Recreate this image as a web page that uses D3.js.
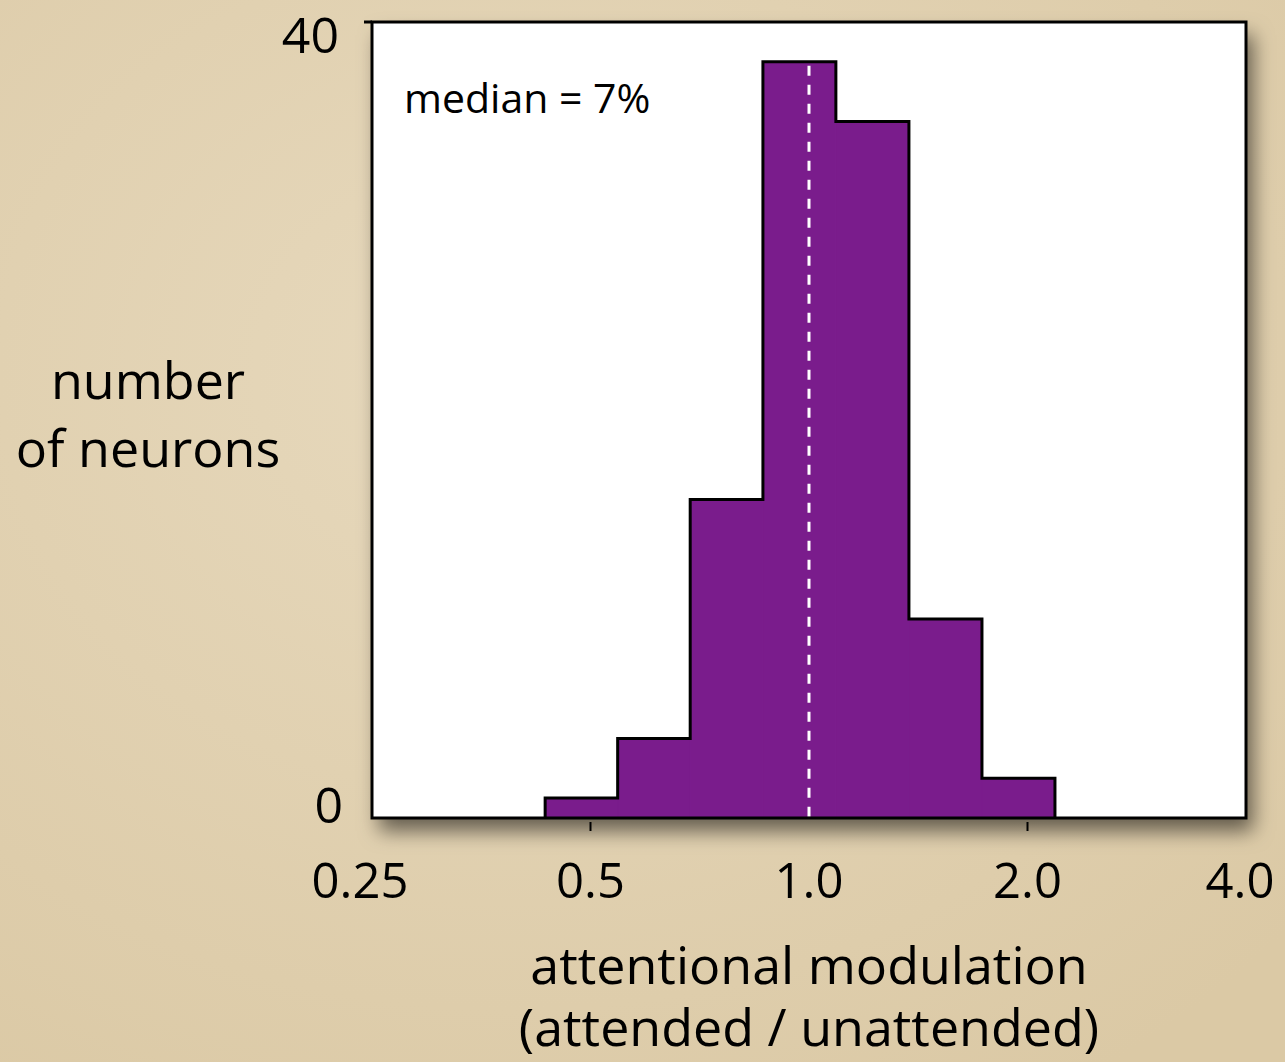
<!DOCTYPE html>
<html>
<head>
<meta charset="utf-8">
<script src="https://cdn.jsdelivr.net/npm/d3@7/dist/d3.min.js"></script>
<style>
  html, body { margin: 0; padding: 0; background: #dfcfae; }
  svg { display: block; }
  text { font-family: "Open Sans", "Noto Sans", sans-serif; fill: #000; }
</style>
</head>
<body>
<svg id="chart" width="1285" height="1062"></svg>
<script>
// ---- data ----
const binEdges = [0.433, 0.545, 0.686, 0.864, 1.089, 1.373, 1.731, 2.182];
const binCounts = [1, 4, 16, 38, 35, 10, 2];
const xTickLabels = [0.25, 0.5, 1.0, 2.0, 4.0];
const xTickMarks = [0.5, 2.0];
const yTickLabels = [0, 40];
const medianValue = 1.0;
const medianText = "median = 7%";
const yTitle = ["number", "of neurons"];
const xTitle = ["attentional modulation", "(attended / unattended)"];

// ---- layout ----
const W = 1285, H = 1062;
const plot = { left: 372, right: 1246, top: 22, bottom: 818 };
const svg = d3.select("#chart");
const defs = svg.append("defs");

// background
const bg = defs.append("radialGradient").attr("id", "bg").attr("cx", "40%").attr("cy", "35%").attr("r", "80%");
bg.append("stop").attr("offset", "0%").attr("stop-color", "#e7d9bd");
bg.append("stop").attr("offset", "100%").attr("stop-color", "#dbc9a5");
svg.append("rect").attr("width", W).attr("height", H).attr("fill", "url(#bg)");

const shadow = defs.append("filter").attr("id", "shadow").attr("x", "-10%").attr("y", "-10%").attr("width", "130%").attr("height", "130%");
shadow.append("feDropShadow").attr("dx", 7).attr("dy", 13).attr("stdDeviation", 10)
  .attr("flood-color", "#000").attr("flood-opacity", 0.55);

const x = d3.scaleLog().base(2).domain([0.25, 4]).range([plot.left, plot.right]);
const y = d3.scaleLinear().domain([0, 40]).range([plot.bottom, plot.top]);

// frame
svg.append("rect")
  .attr("x", plot.left).attr("y", plot.top)
  .attr("width", plot.right - plot.left).attr("height", plot.bottom - plot.top)
  .attr("fill", "#fff").attr("filter", "url(#shadow)");

// bars
const barColor = "#7a1c8c";
const bins = binCounts.map((c, i) => ({ x0: binEdges[i], x1: binEdges[i + 1], c }));
svg.append("g").selectAll("rect").data(bins).join("rect")
  .attr("x", d => x(d.x0)).attr("y", d => y(d.c))
  .attr("width", d => x(d.x1) - x(d.x0)).attr("height", d => y(0) - y(d.c))
  .attr("fill", barColor).attr("stroke", barColor).attr("stroke-width", 1.2);

// step outline
const pts = [[binEdges[0], 0]];
bins.forEach(d => { pts.push([d.x0, d.c]); pts.push([d.x1, d.c]); });
pts.push([binEdges[binEdges.length - 1], 0]);
svg.append("path")
  .attr("d", d3.line().x(d => x(d[0])).y(d => y(d[1]))(pts))
  .attr("fill", "none").attr("stroke", "#000").attr("stroke-width", 3)
  .attr("stroke-linejoin", "miter");

// median dashed line
const medBin = bins.find(d => medianValue >= d.x0 && medianValue < d.x1);
svg.append("line")
  .attr("x1", x(medianValue)).attr("x2", x(medianValue))
  .attr("y1", y(medBin.c) + 4).attr("y2", y(0))
  .attr("stroke", "#fff").attr("stroke-width", 3)
  .attr("stroke-dasharray", "10,9");

// frame border
svg.append("rect")
  .attr("x", plot.left).attr("y", plot.top)
  .attr("width", plot.right - plot.left).attr("height", plot.bottom - plot.top)
  .attr("fill", "none").attr("stroke", "#000").attr("stroke-width", 3);

// y tick at top
svg.append("line")
  .attr("x1", plot.left - 8).attr("x2", plot.left)
  .attr("y1", y(40)).attr("y2", y(40))
  .attr("stroke", "#000").attr("stroke-width", 3);

// x tick marks
svg.append("g").selectAll("line").data(xTickMarks).join("line")
  .attr("x1", d => x(d)).attr("x2", d => x(d))
  .attr("y1", plot.bottom + 4).attr("y2", plot.bottom + 13)
  .attr("stroke", "#000").attr("stroke-width", 2);

// x tick labels
const xLabelDx = { 0.25: -12, 4.0: -6 };
svg.append("g").selectAll("text").data(xTickLabels).join("text")
  .attr("x", d => x(d) + (xLabelDx[d] || 0)).attr("y", 898)
  .attr("text-anchor", "middle").style("font-size", "49px")
  .text(d => d === 0.25 ? "0.25" : d.toFixed(1));

// y tick labels
const yLabelBase = { 40: 53, 0: 823 };
svg.append("g").selectAll("text").data(yTickLabels).join("text")
  .attr("x", d => d === 40 ? 339 : 343).attr("y", d => yLabelBase[d])
  .attr("text-anchor", "end").style("font-size", "50px")
  .text(d => String(d));

// median text
svg.append("text").attr("x", 404).attr("y", 113)
  .style("font-size", "41px").text(medianText);

// y title
svg.append("text").attr("text-anchor", "middle").style("font-size", "52px")
  .selectAll("tspan").data(yTitle).join("tspan")
  .attr("x", 148).attr("y", (d, i) => 399 + i * 68).text(d => d);

// x title
svg.append("text").attr("text-anchor", "middle").style("font-size", "52px")
  .selectAll("tspan").data(xTitle).join("tspan")
  .attr("x", 809).attr("y", (d, i) => 984 + i * 62).text(d => d);
</script>
</body>
</html>
